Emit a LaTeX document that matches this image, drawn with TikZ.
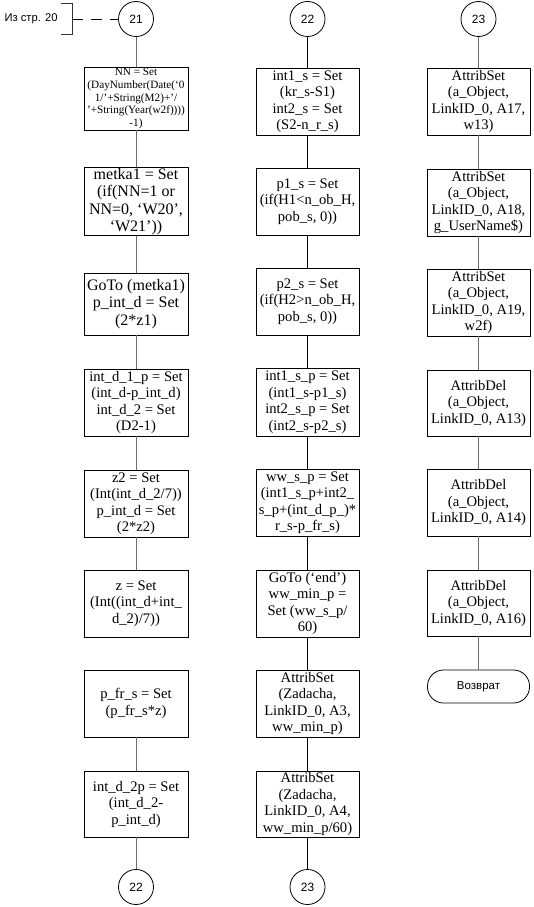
\documentclass[tikz,border=0pt]{standalone}
\usepackage{fontspec}
\setmainfont{Liberation Serif}
\newfontfamily\arialf{Liberation Sans}
\begin{document}
\begin{tikzpicture}[x=1pt,y=-1pt,
  box/.style={draw=black,line width=0.8pt,fill=white,minimum width=104pt,inner sep=0.5pt,align=center,
    font=\fontsize{14.6}{16.5}\selectfont},
  bigtext/.style={font=\fontsize{16}{17.5}\selectfont},
  smalltext/.style={font=\fontsize{11.2}{12.6}\selectfont},
  conn/.style={draw=black,line width=0.8pt,circle,minimum size=35pt,inner sep=0pt,font=\arialf\fontsize{12}{14}\selectfont},
  term/.style={draw=black,line width=0.8pt,rounded corners=16pt,minimum width=102pt,minimum height=33pt,inner sep=0pt,font=\arialf\fontsize{11.5}{13}\selectfont},
  gline/.style={draw=gray!85!black,line width=1pt},
  bline/.style={draw=black,line width=1pt}]
\useasboundingbox (0,0) rectangle (533,907);
% header
\node[font=\arialf\fontsize{11.2}{13}\selectfont,inner sep=0pt] (from) at (31,19) {Из стр. 20};
\coordinate (bt) at (61,3);
\coordinate (bb) at (61,34);
\coordinate (bm) at (72,19);
\draw[line width=0.8pt,draw=black!80] (bt) -- (72,3) -- (72,34) -- (bb);
% column 1
\node[conn] (c21) at (136,19) {21};
\node[box,smalltext,minimum height=63pt] (a1) at (136,98.5) {NN = Set\\(DayNumber(Date(‘0\\1/’+String(M2)+’/\\’+String(Year(w2f))))\\-1)};
\node[box,bigtext,minimum height=65pt] (a2) at (136,201.5) {metka1 = Set\\(if(NN=1 or\\NN=0, ‘W20’,\\‘W21’))};
\node[box,bigtext,minimum height=62pt] (a3) at (136,304) {GoTo (metka1)\\p\_int\_d = Set\\(2*z1)};
\node[box,minimum height=67pt] (a4) at (136,402.5) {int\_d\_1\_p = Set\\(int\_d-p\_int\_d)\\int\_d\_2 = Set\\(D2-1)};
\node[box,minimum height=67pt] (a5) at (136,503.5) {z2 = Set\\(Int(int\_d\_2/7))\\p\_int\_d = Set\\(2*z2)};
\node[box,minimum height=67pt] (a6) at (136,603.5) {z = Set\\(Int((int\_d+int\_\\d\_2)/7))};
\node[box,minimum height=67pt] (a7) at (136,703.5) {p\_fr\_s = Set\\(p\_fr\_s*z)};
\node[box,minimum height=66pt] (a8) at (136,804) {int\_d\_2p = Set\\(int\_d\_2-\\p\_int\_d)};
\node[conn] (c22b) at (136,887) {22};
\draw[line width=0.8pt,dash pattern=on 11pt off 8pt] (bm) -- (c21);
\path[gline] (c21) -- (a1) (a1) -- (a2) (a2) -- (a3) (a3) -- (a4) (a4) -- (a5) (a5) -- (a6) (a7) -- (a8) (a8) -- (c22b);
% column 2
\node[conn] (c22) at (307.5,19) {22};
\node[box,minimum width=103pt,minimum height=67pt] (b1) at (307.5,101.5) {int1\_s = Set\\(kr\_s-S1)\\int2\_s = Set\\(S2-n\_r\_s)};
\node[box,minimum width=103pt,minimum height=67pt] (b2) at (307.5,201.5) {p1\_s = Set\\(if(H1<n\_ob\_H,\\pob\_s, 0))};
\node[box,minimum width=103pt,minimum height=67pt] (b3) at (307.5,301.5) {p2\_s = Set\\(if(H2>n\_ob\_H,\\pob\_s, 0))};
\node[box,minimum width=103pt,minimum height=68pt] (b4) at (307.5,402) {int1\_s\_p = Set\\(int1\_s-p1\_s)\\int2\_s\_p = Set\\(int2\_s-p2\_s)};
\node[box,minimum width=103pt,minimum height=67pt] (b5) at (307.5,502.5) {ww\_s\_p = Set\\(int1\_s\_p+int2\_\\s\_p+(int\_d\_p\_)*\\r\_s-p\_fr\_s)};
\node[box,minimum width=103pt,minimum height=67pt] (b6) at (307.5,603.5) {GoTo (‘end’)\\ww\_min\_p =\\Set (ww\_s\_p/\\60)};
\node[box,minimum width=103pt,minimum height=67pt] (b7) at (307.5,703.5) {AttribSet\\(Zadacha,\\LinkID\_0, A3,\\ww\_min\_p)};
\node[box,minimum width=103pt,minimum height=66pt] (b8) at (307.5,804) {AttribSet\\(Zadacha,\\LinkID\_0, A4,\\ww\_min\_p/60)};
\node[conn] (c23b) at (307.5,887) {23};
\path[bline] (c22) -- (b1) (b1) -- (b2) (b2) -- (b3) (b3) -- (b4) (b4) -- (b5) (b5) -- (b6) (b6) -- (b7) (b7) -- (b8) (b8) -- (c23b);
% column 3
\node[conn] (c23) at (478.5,19) {23};
\node[box,minimum width=103pt,minimum height=67pt] (d1) at (478.5,101.5) {AttribSet\\(a\_Object,\\LinkID\_0, A17,\\w13)};
\node[box,minimum width=103pt,minimum height=67pt] (d2) at (478.5,202.5) {AttribSet\\(a\_Object,\\LinkID\_0, A18,\\g\_UserName\$)};
\node[box,minimum width=103pt,minimum height=67pt] (d3) at (478.5,302.5) {AttribSet\\(a\_Object,\\LinkID\_0, A19,\\w2f)};
\node[box,minimum width=103pt,minimum height=66pt] (d4) at (478.5,403) {AttribDel\\(a\_Object,\\LinkID\_0, A13)};
\node[box,minimum width=103pt,minimum height=67pt] (d5) at (478.5,502.5) {AttribDel\\(a\_Object,\\LinkID\_0, A14)};
\node[box,minimum width=103pt,minimum height=66pt] (d6) at (478.5,603) {AttribDel\\(a\_Object,\\LinkID\_0, A16)};
\node[term] (ret) at (478.5,686.5) {Возврат};
\path[gline] (c23) -- (d1) (d1) -- (d2) (d2) -- (d3) (d3) -- (d4) (d4) -- (d5) (d5) -- (d6) (d6) -- (ret);
\end{tikzpicture}
\end{document}
